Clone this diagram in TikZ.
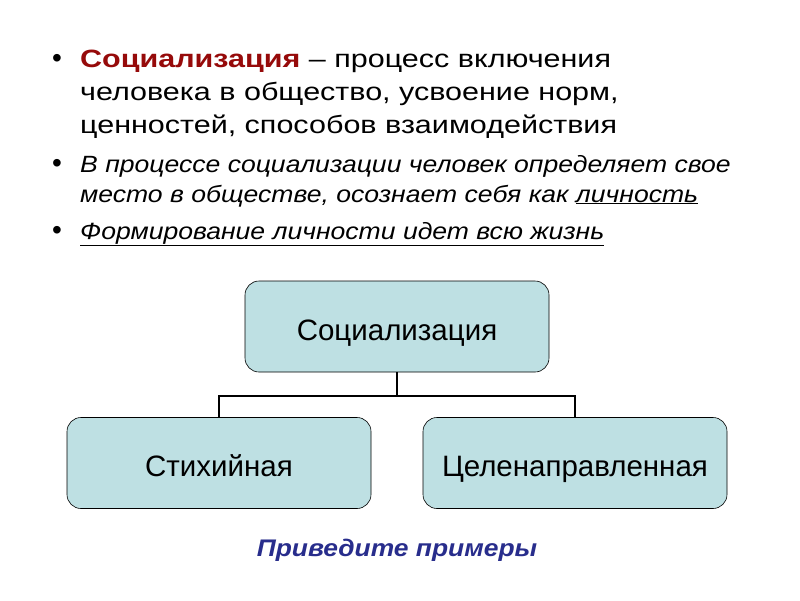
\documentclass[tikz,border=0pt]{standalone}
\usepackage{fontspec}
\setmainfont{Liberation Sans}
\newfontfamily\widefont[FakeStretch=1.22]{Liberation Sans}
\newfontfamily\halfwidefont[FakeStretch=1.1]{Liberation Sans}
\newfontfamily\italicwidefont[FakeStretch=1.13]{Liberation Sans}
\definecolor{boxfill}{RGB}{190,224,227}
\definecolor{termred}{RGB}{150,10,10}
\definecolor{notedark}{RGB}{40,45,140}
\begin{document}
\begin{tikzpicture}
	[x=1pt, y=-1pt, inner sep=0pt,
	kind/.style	= {rectangle, rounded corners=14pt, draw=black, line width=0.6pt, fill=boxfill, minimum width=304pt, minimum height=91pt, text height=27pt, text depth=0pt, font=\fontsize{29.5}{34}\selectfont},
	tree/.style	= {line width=1.2pt},
	bigline/.style	= {anchor=base west, font=\fontsize{25}{30}\selectfont\widefont},
	smallline/.style	= {anchor=base west, font=\fontsize{23.5}{28}\selectfont\italicwidefont\itshape},
	dot/.style	= {anchor=base, font=\fontsize{28}{30}\selectfont}]
	
	\useasboundingbox[fill=white] (0,0) rectangle (800,600);
	
	% bullets
	\node at (57, 67)	[dot]	(b1)	{•};
	\node at (57, 172)	[dot]	(b2)	{•};
	\node at (57, 239)	[dot]	(b3)	{•};
	
	\node at (80, 67)	[bigline]	(l1)	{\textcolor{termred}{\bfseries Социализация} – процесс включения};
	\node at (80, 100)	[bigline]	(l2)	{человека в общество, усвоение норм,};
	\node at (80, 133)	[bigline]	(l3)	{ценностей, способов взаимодействия};
	
	\node at (80, 172)	[smallline]	(l4)	{В процессе социализации человек определяет свое};
	\node at (80, 202)	[smallline]	(l5)	{место в обществе, осознает себя как \underline{личность}};
	\node at (80, 239)	[smallline]	(l6)	{\underline{Формирование личности идет всю жизнь}};
	
	% scheme
	\node at (397, 326.5)	[kind]	(soc)	{Социализация};
	\node at (219, 463)		[kind]	(spont)	{Стихийная};
	\node at (575, 463)		[kind]	(aim)	{Целенаправленная};
	
	\coordinate (fork) at (397, 396);
	\draw [tree] (soc.south) -- (fork);
	\draw [tree] (spont.north) |- (fork) -| (aim.north);
	
	\node at (397, 556)	[anchor=base, font=\fontsize{24}{28}\selectfont\halfwidefont\bfseries\itshape, text=notedark]	(task)	{Приведите примеры};
\end{tikzpicture}
\end{document}
